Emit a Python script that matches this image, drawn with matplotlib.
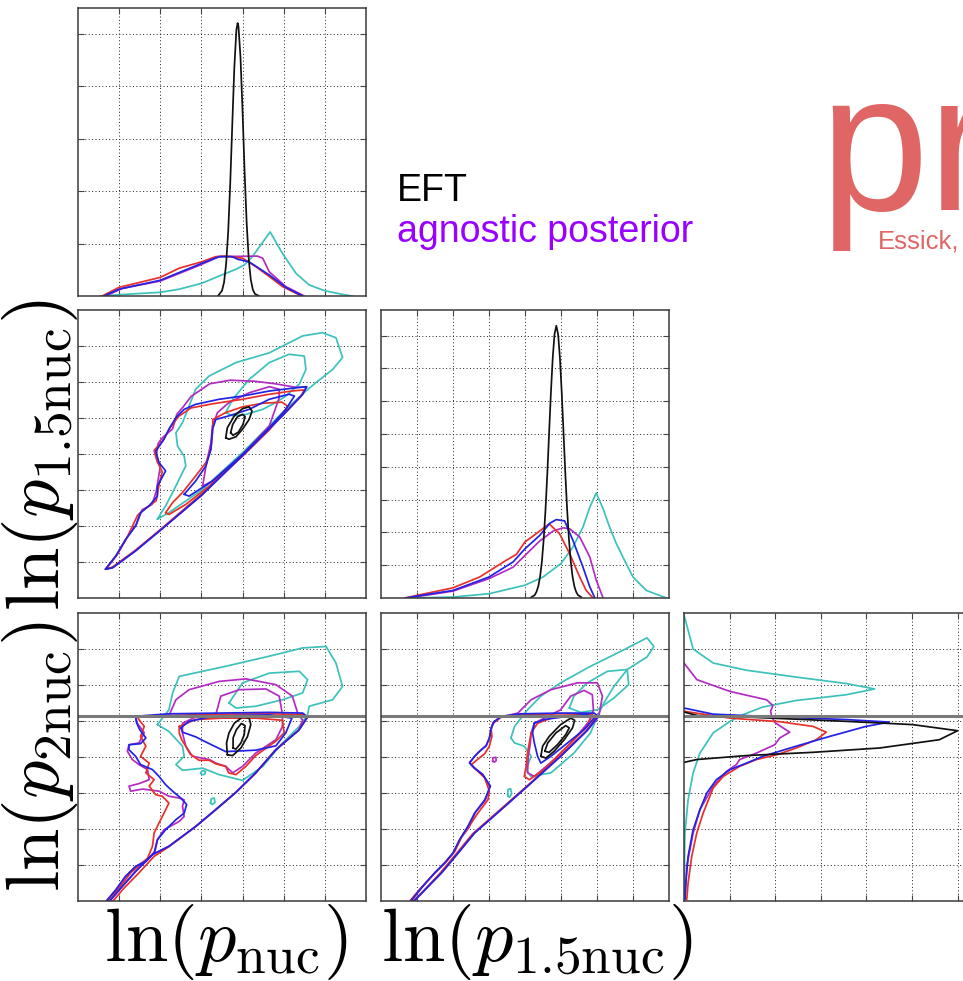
import matplotlib
matplotlib.use("Agg")
import matplotlib.pyplot as plt

plt.rcParams['mathtext.fontset'] = 'cm'
plt.rcParams['font.family'] = ['Liberation Sans', 'DejaVu Sans']

# ---------------- colours of the populations ----------------
C_CYAN = '#3cc2bb'
C_MAG = '#b22cc2'
C_RED = '#e8302a'
C_BLUE = '#2222e6'
C_BLACK = '#111111'
C_MMAX = '#7a7a7a'

# axis labels
label_nuc = r'$\ln(p_{\mathrm{nuc}})$'
label_p15 = r'$\ln(p_{1.5\mathrm{nuc}})$'
label_p2 = r'$\ln(p_{2\mathrm{nuc}})$'

# ---------------- 1D marginal of ln p_nuc (top-left) ----------------
nuc_black_x = [3.40, 3.50, 3.55, 3.60, 3.65, 3.70, 3.75, 3.80, 3.85, 3.88,
               3.90, 3.95, 4.00, 4.05, 4.10, 4.15, 4.20, 4.25, 4.30, 4.40]
nuc_black_y = [0.0, 0.10, 0.26, 0.61, 1.22, 2.14, 3.27, 4.36, 5.07, 5.20,
               5.14, 4.54, 3.51, 2.35, 1.38, 0.70, 0.31, 0.12, 0.04, 0.0]
nuc_cyan = [(0.55, 0), (1.0, 0.025), (2.0, 0.07), (2.46, 0.13), (3.0, 0.24),
            (3.43, 0.38), (3.84, 0.51), (4.04, 0.59), (4.24, 0.75), (4.44, 0.97),
            (4.67, 1.22), (4.97, 0.81), (5.30, 0.43), (5.62, 0.21), (6.0, 0.10),
            (6.43, 0.03), (6.67, 0.0)]
nuc_red = [(0.59, 0), (1.0, 0.165), (1.40, 0.24), (2.0, 0.355), (2.46, 0.53),
           (3.0, 0.65), (3.35, 0.75), (3.59, 0.76), (4.0, 0.72), (4.32, 0.56),
           (4.65, 0.37), (4.97, 0.18), (5.38, 0.02), (5.46, 0)]
nuc_blue = [(0.63, 0), (1.0, 0.13), (2.0, 0.30), (3.0, 0.62), (3.43, 0.75),
            (3.75, 0.75), (3.88, 0.70), (4.16, 0.65), (4.65, 0.40), (5.05, 0.165),
            (5.46, 0)]
nuc_mag = [(0.67, 0), (1.08, 0.146), (2.0, 0.285), (3.0, 0.60), (3.43, 0.75),
           (4.36, 0.76), (4.49, 0.72), (4.65, 0.46), (5.05, 0.18), (5.50, 0)]

# ---------------- 1D marginal of ln p_1.5nuc (centre) ----------------
p15_black_x = [4.17, 4.27, 4.32, 4.37, 4.42, 4.47, 4.52, 4.57, 4.62, 4.67, 4.72,
               4.77, 4.82, 4.87, 4.92, 4.97, 5.02, 5.07, 5.12, 5.17, 5.22, 5.27,
               5.32, 5.37, 5.42, 5.47, 5.57]
p15_black_y = [0.02, 0.09, 0.19, 0.36, 0.66, 1.12, 1.80, 2.70, 3.80, 5.04, 6.27,
               7.32, 8.04, 8.30, 8.04, 7.32, 6.27, 5.04, 3.80, 2.70, 1.80, 1.12,
               0.66, 0.36, 0.19, 0.09, 0.02]
p15_cyan = [(0.89, 0), (2.0, 0.03), (3.0, 0.13), (4.0, 0.39), (4.5, 0.64),
            (5.0, 1.05), (5.33, 1.55), (5.61, 2.16), (5.80, 2.77), (5.98, 3.20),
            (6.17, 2.72), (6.35, 2.16), (6.54, 1.65), (6.81, 1.05), (7.0, 0.64),
            (7.37, 0.23), (7.93, 0)]
p15_red = [(0.66, 0), (1.0, 0.08), (2.0, 0.31), (2.74, 0.64), (3.0, 0.82),
           (3.48, 1.15), (3.76, 1.33), (4.0, 1.71), (4.31, 1.96), (4.67, 2.26),
           (4.96, 1.96), (5.24, 1.35), (5.52, 0.64), (5.70, 0.23), (5.89, 0)]
p15_blue = [(0.70, 0), (1.0, 0.06), (2.0, 0.23), (3.0, 0.64), (3.67, 1.10),
            (4.0, 1.50), (4.41, 1.91), (4.69, 2.28), (4.87, 2.39), (5.10, 2.35),
            (5.33, 1.76), (5.61, 0.94), (5.80, 0.34), (5.94, 0)]
p15_mag = [(0.75, 0), (2.0, 0.21), (3.0, 0.59), (3.67, 0.94), (4.0, 1.30),
           (4.41, 1.74), (4.78, 2.04), (5.06, 2.14), (5.24, 2.11), (5.52, 1.86),
           (5.80, 1.25), (5.98, 0.54), (6.17, 0)]

# ---------------- 1D marginal of ln p_2nuc (bottom-right, sideways) ----------------
p2_black = [(0, 5.25), (0.3, 5.15), (1.37, 5.11), (3.56, 4.99), (5.01, 4.90),
            (6.0, 4.73), (5.60, 4.48), (4.29, 4.25), (2.83, 4.13), (1.37, 4.04),
            (0.28, 3.93), (0.0, 3.85)]
p2_cyan = [(0, 7.95), (0.20, 7.0), (0.64, 6.61), (1.37, 6.41), (2.46, 6.22),
           (3.56, 6.04), (4.18, 5.89), (3.56, 5.73), (2.46, 5.57), (1.73, 5.39),
           (1.30, 5.18), (1.01, 4.99), (0.64, 4.67), (0.35, 4.11), (0.20, 3.56),
           (0.09, 2.81), (0.02, 1.89), (0, 0.04)]
p2_mag = [(0, 6.61), (0.28, 6.15), (1.01, 5.82), (1.81, 5.59), (1.95, 5.43),
          (1.90, 5.27), (1.92, 5.13), (1.99, 4.96), (2.17, 4.81), (2.32, 4.69),
          (2.10, 4.53), (1.99, 4.34), (1.59, 4.11), (1.22, 3.93), (1.15, 3.79),
          (0.93, 3.60), (0.64, 3.19), (0.35, 2.54), (0.20, 1.89), (0.06, 0.96),
          (0.02, 0.04)]
p2_blue = [(0, 5.36), (0.64, 5.19), (2.10, 5.11), (3.56, 5.04), (4.50, 4.97),
           (3.99, 4.85), (3.19, 4.57), (2.46, 4.30), (1.73, 4.02), (1.37, 3.83),
           (1.01, 3.65), (0.71, 3.37), (0.50, 3.0), (0.35, 2.54), (0.20, 1.98),
           (0.09, 1.24), (0.04, 0.5), (0.02, 0.04)]
p2_red = [(0, 5.27), (1.01, 5.08), (2.10, 4.98), (2.83, 4.85), (3.12, 4.69),
          (2.90, 4.48), (2.46, 4.25), (2.03, 4.06), (1.59, 3.93), (1.22, 3.74),
          (0.86, 3.46), (0.64, 3.14), (0.42, 2.44), (0.28, 1.89), (0.17, 1.24),
          (0.09, 0.5), (0.06, 0.04)]

# upper bound on ln p_2nuc shown as a horizontal line
p2_bound = 5.13

# ---------------- credible contours: ln p_nuc vs ln p_1.5nuc ----------------
a10_cyan_outer = [(1.93, 2.19), (2.13, 2.56), (2.30, 2.93), (2.46, 3.30), (2.62, 3.67),
                  (2.58, 3.94), (2.42, 4.22), (2.38, 4.59), (2.54, 4.87), (2.86, 5.80),
                  (3.19, 6.17), (3.84, 6.54), (4.65, 6.81), (5.46, 7.28), (5.94, 7.37),
                  (6.27, 7.23), (6.43, 6.68), (6.19, 6.35), (5.78, 5.98), (5.54, 5.75),
                  (5.05, 5.24), (4.0, 4.04), (3.03, 3.02), (2.21, 2.37)]
a10_cyan_inner = [(3.59, 5.15), (3.76, 5.52), (4.16, 6.07), (4.65, 6.54), (5.13, 6.77),
                  (5.50, 6.72), (5.54, 6.35), (5.38, 5.94), (5.05, 5.61), (4.81, 5.43),
                  (4.49, 5.24), (4.08, 5.10), (3.76, 5.06)]
a10_mag_outer = [(0.67, 0.80), (0.93, 1.18), (1.18, 1.66), (1.42, 2.05), (1.56, 2.45),
                 (1.80, 2.60), (1.90, 2.95), (1.95, 3.30), (2.0, 3.65), (1.90, 3.95),
                 (1.95, 4.30), (2.05, 4.45), (2.30, 4.70), (2.40, 5.10), (2.55, 5.30),
                 (2.75, 5.60), (3.20, 5.95), (3.70, 6.05), (4.30, 6.02), (4.80, 5.95),
                 (5.30, 5.85), (5.55, 5.86), (5.46, 5.66), (5.0, 5.10), (4.0, 3.96),
                 (3.0, 2.85), (2.0, 1.88), (1.40, 1.31), (0.84, 0.84)]
a10_mag_inner = [(3.27, 4.78), (3.39, 5.15), (3.67, 5.43), (4.16, 5.70), (4.65, 5.87),
                 (4.89, 5.80), (4.89, 5.56), (4.65, 4.78), (4.0, 3.99), (3.27, 3.25),
                 (3.03, 3.11), (3.11, 3.67), (3.23, 4.31)]
a10_red_outer = [(0.67, 0.80), (0.95, 1.20), (1.20, 1.70), (1.45, 2.30), (1.65, 2.50),
                 (1.90, 2.70), (1.98, 3.20), (2.05, 3.50), (1.92, 3.80), (1.85, 4.10),
                 (2.05, 4.35), (2.25, 4.75), (2.45, 5.05), (2.75, 5.28), (3.30, 5.40),
                 (4.0, 5.52), (4.60, 5.65), (5.20, 5.75), (5.50, 5.78), (5.42, 5.60),
                 (5.0, 5.12), (4.0, 3.98), (3.0, 2.88), (2.0, 1.90), (1.40, 1.33),
                 (0.84, 0.86)]
a10_red_inner = [(2.13, 2.37), (2.30, 2.65), (2.54, 2.93), (2.86, 3.39), (3.11, 3.76),
                 (3.23, 4.13), (3.27, 4.59), (3.28, 4.96), (3.59, 5.15), (4.0, 5.31),
                 (4.49, 5.41), (4.96, 5.44), (5.09, 5.33), (4.97, 5.10), (4.65, 4.67),
                 (4.0, 3.94), (3.19, 3.11), (2.62, 2.60), (2.21, 2.32)]
a10_blue_outer = [(0.67, 0.80), (0.92, 1.17), (1.16, 1.63), (1.40, 2.0), (1.52, 2.37),
                  (1.73, 2.56), (1.93, 2.83), (1.93, 3.11), (2.13, 3.53), (1.97, 3.76),
                  (1.89, 4.08), (2.09, 4.41), (2.21, 4.69), (2.38, 5.01), (2.58, 5.24),
                  (2.86, 5.38), (3.43, 5.52), (4.0, 5.61), (4.65, 5.75), (5.30, 5.84),
                  (5.56, 5.87), (5.46, 5.66), (5.0, 5.10), (4.0, 3.96), (3.0, 2.85),
                  (2.0, 1.88), (1.40, 1.31), (0.84, 0.84)]
a10_blue_inner = [(2.58, 2.88), (2.86, 3.25), (3.11, 3.67), (3.23, 4.13), (3.27, 4.69),
                  (3.35, 4.96), (3.67, 5.06), (4.16, 5.24), (4.65, 5.52), (5.13, 5.66),
                  (5.26, 5.61), (5.05, 5.24), (4.65, 4.73), (4.0, 3.99), (3.27, 3.25),
                  (2.70, 2.83)]
a10_black_outer = [(3.59, 4.45), (3.63, 4.73), (3.80, 5.06), (4.0, 5.26), (4.16, 5.31),
                   (4.23, 5.19), (4.16, 4.96), (4.0, 4.69), (3.84, 4.48), (3.67, 4.41)]
a10_black_inner = [(3.71, 4.59), (3.76, 4.82), (3.88, 5.04), (4.0, 5.10), (4.06, 5.04),
                   (4.01, 4.82), (3.90, 4.61), (3.77, 4.52)]

# ---------------- credible contours: ln p_nuc vs ln p_2nuc ----------------
a20_cyan_outer = [(1.93, 4.90), (2.21, 4.71), (2.54, 4.30), (2.58, 4.02), (2.38, 3.79),
                  (2.54, 3.63), (3.03, 3.69), (3.43, 3.51), (4.0, 3.35), (4.49, 3.74),
                  (4.97, 4.39), (5.38, 4.85), (5.58, 5.18), (5.62, 5.41), (6.19, 5.59),
                  (6.43, 5.96), (6.27, 6.61), (6.03, 7.07), (5.46, 7.03), (4.65, 6.80),
                  (3.59, 6.52), (2.46, 6.24), (2.30, 5.78), (2.21, 5.31), (2.05, 5.08)]
a20_cyan_inner = [(3.67, 5.50), (4.0, 6.06), (4.65, 6.33), (5.38, 6.38), (5.58, 6.15),
                  (5.46, 5.78), (4.97, 5.59), (4.32, 5.41), (3.84, 5.36)]
a20_cyan_islands = [[(3.22, 2.72), (3.24, 2.84), (3.31, 2.86), (3.33, 2.74), (3.27, 2.68)],
                    [(2.98, 3.55), (3.02, 3.62), (3.10, 3.60), (3.08, 3.52), (3.01, 3.51)]]
a20_mag_outer = [(1.40, 5.11), (2.21, 5.15), (2.38, 5.59), (2.70, 5.87), (3.43, 6.10),
                 (4.08, 6.17), (4.81, 6.01), (5.21, 5.69), (5.34, 5.22), (5.46, 5.02),
                 (5.36, 4.74), (4.81, 4.20), (4.32, 3.56), (3.84, 3.02), (3.35, 2.54),
                 (2.86, 2.07), (2.21, 1.52), (1.81, 1.29), (1.40, 0.82), (1.08, 0.41),
                 (0.77, 0.0), (0.69, 0.0), (0.92, 0.31), (1.16, 0.69), (1.40, 0.96),
                 (1.69, 1.15), (1.87, 1.38), (1.93, 1.70), (2.09, 1.98), (2.46, 2.21),
                 (2.58, 2.35), (2.54, 2.63), (2.58, 2.81), (2.46, 2.86), (2.21, 2.91),
                 (1.97, 3.05), (1.57, 3.11), (1.28, 3.05), (1.24, 3.19), (1.48, 3.26),
                 (1.73, 3.37), (1.69, 3.65), (1.48, 3.79), (1.32, 3.93), (1.20, 4.16),
                 (1.24, 4.34), (1.48, 4.39), (1.61, 4.67), (1.44, 4.94)]
a20_mag_inner = [(3.35, 5.18), (3.47, 5.69), (3.92, 5.87), (4.57, 5.89), (4.89, 5.69),
                 (4.97, 5.18), (4.97, 4.85), (4.81, 4.48), (4.32, 4.11), (4.0, 3.74),
                 (3.76, 3.56), (3.59, 3.74), (3.35, 3.83), (3.19, 3.93), (2.78, 4.02),
                 (2.62, 4.30), (2.54, 4.67), (2.54, 4.94), (2.86, 5.11)]
a20_red_outer = [(1.44, 5.13), (3.43, 5.19), (4.65, 5.20), (5.50, 5.18), (5.56, 5.08),
                 (5.36, 4.74), (4.79, 4.19), (4.31, 3.54), (3.82, 3.0), (3.33, 2.52),
                 (2.85, 2.06), (2.20, 1.50), (1.85, 1.24), (1.48, 0.78), (1.12, 0.36),
                 (0.85, 0.0), (0.75, 0.0), (1.0, 0.36), (1.28, 0.78), (1.69, 1.19),
                 (1.81, 1.52), (1.85, 1.89), (1.97, 2.17), (2.09, 2.44), (2.21, 2.72),
                 (2.05, 2.91), (1.89, 2.95), (1.73, 3.19), (1.85, 3.37), (1.65, 3.56),
                 (1.73, 3.83), (1.52, 4.02), (1.65, 4.30), (1.52, 4.57), (1.61, 4.85),
                 (1.48, 5.04)]
a20_red_inner = [(2.46, 4.85), (2.86, 5.04), (3.51, 5.08), (4.32, 5.08), (4.97, 5.02),
                 (5.01, 4.67), (4.81, 4.44), (4.32, 4.04), (4.08, 3.74), (3.84, 3.51),
                 (3.66, 3.56), (3.59, 3.74), (3.35, 3.81), (3.19, 3.91), (2.94, 3.91),
                 (2.72, 4.09), (2.62, 4.30), (2.52, 4.48), (2.46, 4.67)]
a20_blue_outer = [(1.40, 5.13), (2.21, 5.20), (3.43, 5.22), (4.65, 5.24), (5.46, 5.22),
                  (5.58, 5.11), (5.38, 4.76), (4.81, 4.20), (4.32, 3.56), (3.84, 3.02),
                  (3.35, 2.54), (2.86, 2.07), (2.21, 1.52), (1.81, 1.29), (1.40, 0.82),
                  (1.08, 0.41), (0.77, 0.0), (0.69, 0.0), (0.92, 0.31), (1.16, 0.69),
                  (1.40, 0.96), (1.65, 1.10), (1.85, 1.33), (1.93, 1.70), (2.13, 1.98),
                  (2.38, 2.26), (2.58, 2.44), (2.64, 2.68), (2.50, 2.86), (2.30, 3.05),
                  (2.13, 3.23), (1.97, 3.46), (1.81, 3.65), (1.52, 3.79), (1.40, 4.02),
                  (1.24, 4.20), (1.24, 4.34), (1.52, 4.37), (1.65, 4.53), (1.50, 4.76),
                  (1.42, 4.96)]
a20_blue_inner = [(2.50, 4.81), (2.70, 4.99), (3.19, 5.11), (3.84, 5.15), (4.65, 5.17),
                  (5.20, 5.08), (5.05, 4.67), (4.81, 4.31), (4.32, 4.19), (3.59, 4.15),
                  (3.19, 4.37), (2.86, 4.56), (2.54, 4.69)]
a20_black_outer = [(3.63, 4.06), (3.61, 4.39), (3.67, 4.67), (3.80, 4.94), (4.0, 5.11),
                   (4.16, 5.08), (4.20, 4.90), (4.12, 4.57), (3.96, 4.25), (3.76, 4.04)]
a20_black_inner = [(3.77, 4.25), (3.77, 4.53), (3.85, 4.76), (3.97, 4.93), (4.06, 4.87),
                   (4.04, 4.62), (3.96, 4.39), (3.84, 4.22)]

# ---------------- credible contours: ln p_1.5nuc vs ln p_2nuc ----------------
a21_cyan_outer = [(3.61, 4.53), (3.71, 4.85), (4.07, 5.31), (4.44, 5.69), (4.99, 6.06),
                  (5.82, 6.52), (6.75, 6.98), (7.39, 7.31), (7.58, 7.07), (7.39, 6.78),
                  (6.84, 6.43), (6.47, 5.96), (6.19, 5.50), (6.01, 5.13), (5.82, 4.67),
                  (5.36, 4.11), (4.72, 3.56), (4.17, 3.46), (4.03, 3.65), (4.17, 4.02),
                  (3.98, 4.30), (3.71, 4.39)]
a21_cyan_inner = [(5.23, 5.36), (5.36, 5.69), (5.73, 6.06), (6.29, 6.38), (6.84, 6.43),
                  (6.88, 6.01), (6.47, 5.64), (6.01, 5.31), (5.55, 5.24)]
a21_cyan_islands = [[(3.52, 2.92), (3.53, 3.10), (3.60, 3.12), (3.63, 2.98), (3.57, 2.88)]]
a21_mag_outer = [(3.11, 4.94), (3.34, 5.11), (3.80, 5.22), (4.17, 5.59), (4.72, 5.87),
                 (5.46, 6.06), (6.01, 6.06), (6.15, 5.69), (6.06, 5.18), (6.03, 5.10),
                 (5.73, 4.74), (4.99, 4.02), (4.07, 3.19), (3.34, 2.54), (2.60, 1.89),
                 (2.14, 1.33), (1.68, 0.78), (1.22, 0.31), (0.92, 0.0), (0.83, 0.0),
                 (1.12, 0.36), (1.49, 0.78), (1.77, 1.06), (2.0, 1.33), (2.20, 1.72),
                 (2.45, 2.05), (2.62, 2.46), (2.90, 2.80), (3.02, 3.17), (2.82, 3.52),
                 (2.58, 3.70), (2.46, 3.85), (2.62, 4.04), (2.76, 4.18), (2.93, 4.33),
                 (3.02, 4.55), (3.07, 4.80)]
a21_mag_inner = [(4.17, 4.67), (4.26, 4.94), (4.63, 5.13), (4.99, 5.31), (5.27, 5.69),
                 (5.64, 5.85), (5.87, 5.73), (5.90, 5.31), (5.82, 5.04), (5.36, 4.48),
                 (4.81, 3.93), (4.26, 3.46), (4.07, 3.56), (4.09, 4.02), (4.15, 4.39)]
a21_mag_islands = [[(3.10, 3.88), (3.11, 3.98), (3.19, 3.99), (3.20, 3.90), (3.15, 3.86)]]
a21_red_outer = [(3.11, 4.94), (3.34, 5.11), (3.89, 5.18), (4.99, 5.20), (5.87, 5.18),
                 (5.96, 5.08), (5.69, 4.71), (4.95, 4.0), (4.03, 3.17), (3.29, 2.52),
                 (2.55, 1.87), (2.09, 1.31), (1.63, 0.76), (1.20, 0.30), (0.89, 0.0),
                 (0.80, 0.0), (1.08, 0.33), (1.45, 0.73), (1.82, 1.10), (2.05, 1.38),
                 (2.25, 1.80), (2.51, 2.17), (2.69, 2.44), (2.97, 2.81), (3.01, 3.05),
                 (2.88, 3.42), (2.64, 3.65), (2.51, 3.79), (2.69, 3.94), (2.88, 4.09),
                 (3.01, 4.30), (3.08, 4.57), (3.06, 4.78)]
a21_red_inner = [(4.17, 4.67), (4.35, 4.94), (4.81, 5.11), (5.36, 5.13), (5.82, 5.11),
                 (5.73, 4.85), (5.18, 4.30), (4.53, 3.65), (4.12, 3.37), (3.98, 3.46),
                 (4.03, 3.74), (4.07, 4.11), (4.12, 4.39)]
a21_blue_outer = [(3.15, 4.99), (3.34, 5.13), (3.89, 5.20), (4.99, 5.22), (5.92, 5.22),
                  (6.03, 5.13), (5.73, 4.74), (4.99, 4.02), (4.07, 3.19), (3.34, 2.54),
                  (2.60, 1.89), (2.14, 1.33), (1.68, 0.78), (1.22, 0.31), (0.92, 0.0),
                  (0.83, 0.0), (1.12, 0.36), (1.49, 0.78), (1.77, 1.06), (2.0, 1.33),
                  (2.18, 1.70), (2.41, 2.07), (2.60, 2.44), (2.88, 2.81), (3.04, 3.19),
                  (2.83, 3.51), (2.60, 3.69), (2.46, 3.83), (2.60, 4.02), (2.74, 4.16),
                  (2.92, 4.31), (3.01, 4.53), (3.06, 4.81)]
a21_blue_inner = [(4.26, 4.94), (4.53, 5.04), (5.18, 5.13), (5.73, 5.18), (5.92, 5.08),
                  (5.64, 4.76), (5.18, 4.39), (4.72, 4.02), (4.44, 3.83), (4.35, 4.02),
                  (4.26, 4.39), (4.21, 4.67)]
a21_black_outer = [(4.44, 4.02), (4.49, 4.30), (4.67, 4.57), (4.99, 4.90), (5.27, 5.08),
                   (5.38, 5.02), (5.32, 4.81), (5.09, 4.48), (4.81, 4.16), (4.58, 3.97)]
a21_black_inner = [(4.55, 4.16), (4.63, 4.39), (4.86, 4.67), (5.13, 4.87), (5.23, 4.81),
                   (5.13, 4.62), (4.90, 4.34), (4.67, 4.13)]

# ---------------- figure ----------------
W, H = 963, 981
fig = plt.figure(figsize=(W / 100, H / 100), dpi=100)
fig.patch.set_facecolor('white')


def make_axes(x0, y_top, w, h, xlim, ylim, xticks, yticks):
    ax = fig.add_axes([x0 / W, 1 - (y_top + h) / H, w / W, h / H])
    ax.set_xlim(*xlim)
    ax.set_ylim(*ylim)
    ax.set_xticks(xticks)
    ax.set_yticks(yticks)
    ax.tick_params(direction='in', top=True, right=True, length=4.5, width=0.8,
                   colors='#444444', labelbottom=False, labelleft=False)
    ax.grid(True, linestyle=(0, (1, 2.5)), color='#222222', linewidth=0.7)
    for s in ax.spines.values():
        s.set_color('#3a3a3a')
        s.set_linewidth(1.1)
    return ax


LW = 1.25


def curve(ax, pts, color, lw=LW, close=False):
    xs = [p[0] for p in pts]
    ys = [p[1] for p in pts]
    if close:
        xs.append(xs[0])
        ys.append(ys[0])
    ax.plot(xs, ys, color=color, lw=lw, solid_joinstyle='round',
            solid_capstyle='round')


ax00 = make_axes(78, 8, 288, 288, (0, 7), (0, 5.486), range(1, 7), range(1, 6))
ax10 = make_axes(78, 310, 288, 288, (0, 7), (0, 8), range(1, 7), range(1, 8))
ax11 = make_axes(381, 310, 288, 288, (0, 8), (0, 8.78), range(1, 8), range(1, 9))
ax20 = make_axes(78, 613, 288, 288, (0, 7), (0, 8), range(1, 7), range(1, 8))
ax21 = make_axes(381, 613, 288, 288, (0, 8), (0, 8), range(1, 8), range(1, 8))
ax22 = make_axes(684, 613, 288, 288, (0, 6.316), (0, 8), range(1, 7), range(1, 8))

# 1D marginals
curve(ax00, nuc_cyan, C_CYAN)
curve(ax00, nuc_mag, C_MAG)
curve(ax00, nuc_red, C_RED)
curve(ax00, nuc_blue, C_BLUE)
ax00.plot(nuc_black_x, nuc_black_y, color=C_BLACK, lw=LW)

curve(ax11, p15_cyan, C_CYAN)
curve(ax11, p15_mag, C_MAG)
curve(ax11, p15_red, C_RED)
curve(ax11, p15_blue, C_BLUE)
ax11.plot(p15_black_x, p15_black_y, color=C_BLACK, lw=LW)

curve(ax22, p2_cyan, C_CYAN)
curve(ax22, p2_mag, C_MAG)
curve(ax22, p2_red, C_RED)
curve(ax22, p2_blue, C_BLUE)
curve(ax22, p2_black, C_BLACK)
ax22.axhline(p2_bound, color=C_MMAX, lw=2.2)

# 2D contours
for ax, groups in [
    (ax10, [(a10_cyan_outer, C_CYAN), (a10_cyan_inner, C_CYAN),
            (a10_mag_outer, C_MAG), (a10_mag_inner, C_MAG),
            (a10_red_outer, C_RED), (a10_red_inner, C_RED),
            (a10_blue_outer, C_BLUE), (a10_blue_inner, C_BLUE),
            (a10_black_outer, C_BLACK), (a10_black_inner, C_BLACK)]),
    (ax20, [(a20_cyan_outer, C_CYAN), (a20_cyan_inner, C_CYAN),
            (a20_cyan_islands[0], C_CYAN), (a20_cyan_islands[1], C_CYAN),
            (a20_mag_outer, C_MAG), (a20_mag_inner, C_MAG),
            (a20_red_outer, C_RED), (a20_red_inner, C_RED),
            (a20_blue_outer, C_BLUE), (a20_blue_inner, C_BLUE),
            (a20_black_outer, C_BLACK), (a20_black_inner, C_BLACK)]),
    (ax21, [(a21_cyan_outer, C_CYAN), (a21_cyan_inner, C_CYAN),
            (a21_cyan_islands[0], C_CYAN),
            (a21_mag_outer, C_MAG), (a21_mag_inner, C_MAG),
            (a21_mag_islands[0], C_MAG),
            (a21_red_outer, C_RED), (a21_red_inner, C_RED),
            (a21_blue_outer, C_BLUE), (a21_blue_inner, C_BLUE),
            (a21_black_outer, C_BLACK), (a21_black_inner, C_BLACK)]),
]:
    for pts, col in groups:
        curve(ax, pts, col, close=True)

ax20.axhline(p2_bound, color=C_MMAX, lw=2.2)
ax21.axhline(p2_bound, color=C_MMAX, lw=2.2)

# axis labels
fig.text(226 / W, 1 - 902 / H, label_nuc, fontsize=55, ha='center', va='top')
fig.text(537 / W, 1 - 902 / H, label_p15, fontsize=55, ha='center', va='top')
fig.text(40 / W, 1 - 455 / H, label_p15, fontsize=55, rotation=90,
         ha='center', va='center')
fig.text(40 / W, 1 - 757 / H, label_p2, fontsize=55, rotation=90,
         ha='center', va='center')

# legend text
fig.text(397 / W, 1 - 201 / H, 'EFT', fontsize=27, color='black',
         ha='left', va='baseline')
fig.text(397 / W, 1 - 242 / H, 'agnostic posterior', fontsize=27, color='#9900ff',
         ha='left', va='baseline')

# heading text on the right
fig.text(819 / W, 1 - 210 / H, 'pr', fontsize=141, color='#e06666',
         ha='left', va='baseline')
fig.text(878 / W, 1 - 248 / H, 'Essick,', fontsize=18.5, color='#e06666',
         ha='left', va='baseline')

fig.savefig('out.png', dpi=100, facecolor='white')
